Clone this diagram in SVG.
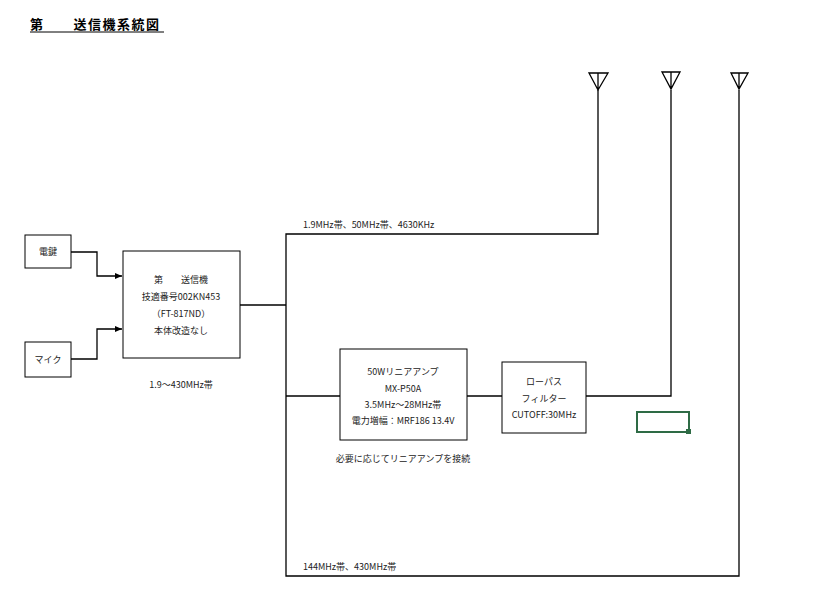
<svg xmlns="http://www.w3.org/2000/svg" width="826" height="600" viewBox="0 0 826 600">
<defs>
<style>
.b{fill:#fff;stroke:#000;stroke-width:1}
.l{fill:none;stroke:#000;stroke-width:1.3}
text{font-family:"Noto Sans CJK JP","Noto Sans",sans-serif;font-size:9px;fill:#222;text-anchor:middle}
</style>
<marker id="a" markerWidth="8" markerHeight="8" refX="7" refY="4" orient="auto" markerUnits="userSpaceOnUse"><path d="M0,1 L7,4 L0,7z" fill="#000"/></marker>
</defs>
<rect width="826" height="600" fill="#fff"/>
<text x="30" y="29" style="text-anchor:start;font-size:13px;font-weight:bold;fill:#000;letter-spacing:1.5px">第　　送信機系統図</text>
<line x1="30" y1="32" x2="164" y2="32" stroke="#000"/>
<g id="connectors">
<path class="l" d="M71,252 H97 V276 H122" marker-end="url(#a)"/>
<path class="l" d="M71,359 H97 V329 H122" marker-end="url(#a)"/>
<path class="l" d="M240,305 H286"/>
<path class="l" d="M598,90 V234 H286 V576 H739 V90"/>
<path class="l" d="M286,396 H340"/>
<path class="l" d="M467,396 H502"/>
<path class="l" d="M586,396 H671 V90"/>
<path class="l" d="M589,73 H608 L598,90 Z M598,73 V90"/>
<path class="l" d="M662,72 H680 L671,89 Z M671,72 V89"/>
<path class="l" d="M731,73 H748 L739,89 Z M739,73 V89"/>
</g>
<g id="key"><rect class="b" x="25" y="235" width="46" height="33"/><text x="48" y="255">電鍵</text></g>
<g id="mic"><rect class="b" x="25" y="342" width="46" height="35"/><text x="48" y="363">マイク</text></g>
<g id="tx"><rect class="b" x="123" y="251" width="117" height="107"/>
<text x="181" y="283">第　　送信機</text>
<text x="181" y="300">技適番号002KN453</text>
<text x="181" y="317">（FT-817ND）</text>
<text x="181" y="334">本体改造なし</text></g>
<text x="181" y="388">1.9〜430MHz帯</text>
<g id="amp"><rect class="b" x="340" y="349" width="127" height="91"/>
<text x="403" y="375">50Wリニアアンプ</text>
<text x="403" y="392">MX-P50A</text>
<text x="403" y="408">3.5MHz〜28MHz帯</text>
<text x="403" y="424">電力増幅：MRF186  13.4V</text></g>
<text x="403" y="462">必要に応じてリニアアンプを接続</text>
<g id="lpf"><rect class="b" x="502" y="362" width="84" height="71"/>
<text x="544" y="385">ローパス</text>
<text x="544" y="402">フィルター</text>
<text x="544" y="418">CUTOFF:30MHz</text></g>
<text x="303" y="228" style="text-anchor:start">1.9MHz帯、50MHz帯、4630KHz</text>
<text x="303" y="570" style="text-anchor:start">144MHz帯、430MHz帯</text>
<rect x="637" y="412" width="52" height="20" fill="none" stroke="#2e6b45" stroke-width="2"/>
<rect x="686" y="429" width="5" height="5" fill="#2e6b45"/>
</svg>
